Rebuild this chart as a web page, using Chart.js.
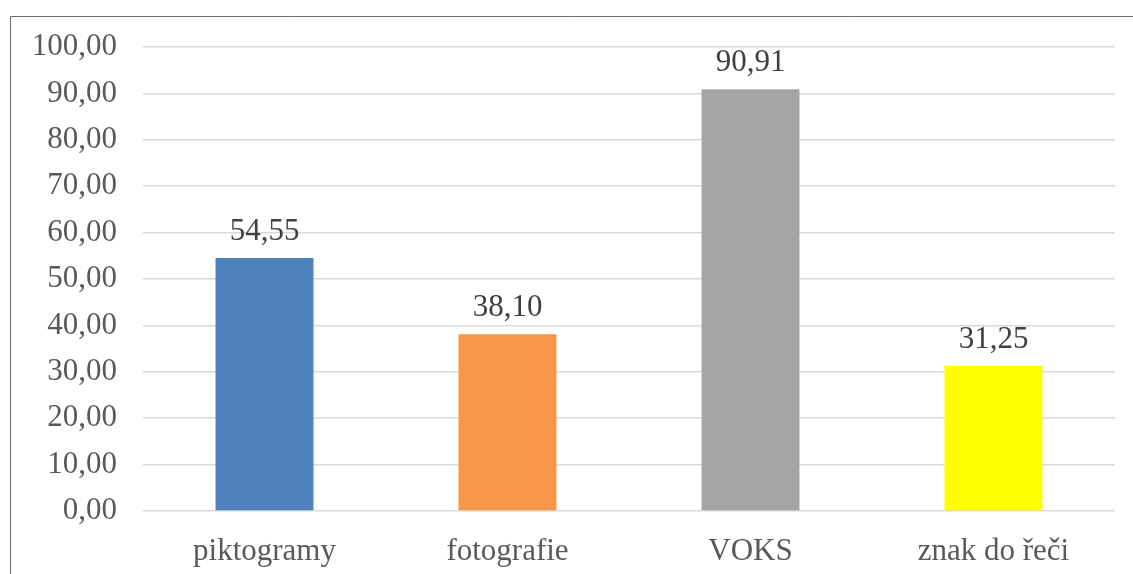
<!DOCTYPE html>
<html><head><meta charset="utf-8">
<script src="https://cdn.jsdelivr.net/npm/chart.js@4/dist/chart.umd.min.js"></script>
<style>html,body{margin:0;padding:0;background:#fff;}#wrap{width:1133px;height:574px;position:relative;}</style>
</head><body><div id="wrap"><canvas id="c" width="1133" height="574"></canvas></div>
<script>
const categories = ["piktogramy", "fotografie", "VOKS", "znak do řeči"];
const values = [54.55, 38.10, 90.91, 31.25];
const barColors = ["#4f81bd", "#f79646", "#a5a5a5", "#ffff00"];
const yTicks = [0,10,20,30,40,50,60,70,80,90,100];
const FONT = "'Liberation Serif'";
const FSIZE = 31;
const fmt = v => v.toFixed(2).replace('.', ',');

const borderPlugin = {
  id: 'outerBorder',
  beforeDraw(chart) {
    const ctx = chart.ctx;
    ctx.save();
    ctx.strokeStyle = '#6b6b6b';
    ctx.lineWidth = 1;
    ctx.beginPath();
    ctx.moveTo(10.5, 574);
    ctx.lineTo(10.5, 16.5);
    ctx.lineTo(1133, 16.5);
    ctx.stroke();
    ctx.restore();
  }
};
const labelPlugin = {
  id: 'valueLabels',
  afterDatasetsDraw(chart) {
    const ctx = chart.ctx;
    const meta = chart.getDatasetMeta(0);
    ctx.save();
    ctx.fillStyle = '#404040';
    ctx.font = FSIZE + 'px ' + FONT;
    ctx.textAlign = 'center';
    ctx.textBaseline = 'alphabetic';
    meta.data.forEach((bar, i) => {
      ctx.fillText(fmt(values[i]), bar.x, bar.y - 18);
    });
    ctx.restore();
  }
};

new Chart(document.getElementById('c'), {
  type: 'bar',
  data: { labels: categories, datasets: [{ data: values, backgroundColor: barColors, categoryPercentage: 1, barPercentage: 0.403 }] },
  options: {
    responsive: false, animation: false,
    layout: { padding: { top: 47, right: 18, bottom: 0, left: 0 } },
    plugins: { legend: { display: false }, tooltip: { enabled: false } },
    scales: {
      x: {
        grid: { display: false, drawTicks: false },
        border: { display: false },
        ticks: { color: '#595959', font: { family: FONT, size: FSIZE }, padding: 22, maxRotation: 0 },
        afterFit(s) { s.height = 63; }
      },
      y: {
        min: 0, max: 100,
        afterBuildTicks(s) { s.ticks = yTicks.map(v => ({ value: v })); },
        grid: { color: '#d9d9d9', lineWidth: 1.5, drawTicks: false },
        border: { display: false },
        ticks: { color: '#595959', font: { family: FONT, size: FSIZE }, padding: 26, callback: v => fmt(v) },
        afterFit(s) { s.width = 143; }
      }
    }
  },
  plugins: [borderPlugin, labelPlugin]
});
</script></body></html>
